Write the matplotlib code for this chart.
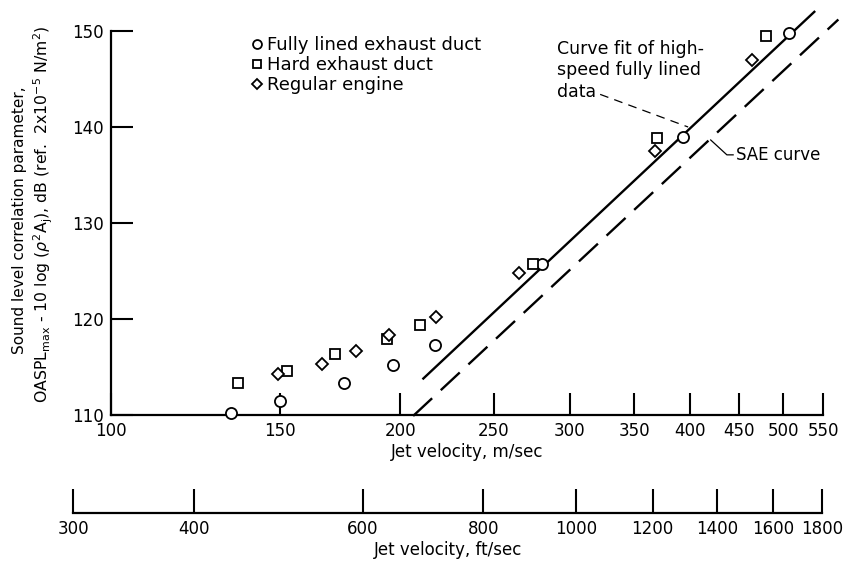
import numpy as np
import matplotlib
matplotlib.use('Agg')
import matplotlib.pyplot as plt
from matplotlib.ticker import FixedLocator, NullLocator

plt.rcParams['font.family'] = ['DejaVu Sans']
plt.rcParams['mathtext.fontset'] = 'dejavusans'

# data (jet velocity m/sec, correlation parameter dB)
lined_v = [133.3, 150.0, 174.6, 196.5, 217.4, 280.7, 393.7, 507.3]
lined_db = [110.2, 111.5, 113.3, 115.2, 117.3, 125.7, 139.0, 149.8]
hard_v = [135.5, 152.5, 171.2, 193.5, 209.7, 274.4, 369.4, 479.6]
hard_db = [113.3, 114.6, 116.4, 117.9, 119.4, 125.7, 138.9, 149.5]
reg_v = [149.1, 165.9, 179.7, 194.6, 217.6, 265.9, 368.0, 463.8]
reg_db = [114.3, 115.3, 116.7, 118.3, 120.2, 124.8, 137.5, 147.0]

fit_v = [211.3, 538.6]
fit_db = [113.8, 152.0]
sae_v = [206.2, 570.5]
sae_db = [109.9, 151.2]

ms_ticks = [100, 150, 200, 250, 300, 350, 400, 450, 500, 550]
fts_ticks = [300, 400, 600, 800, 1000, 1200, 1400, 1600, 1800]
db_ticks = [110, 120, 130, 140, 150]
FT = 0.3048

fig = plt.figure(figsize=(8.46, 5.65), dpi=100)
ax_l, ax_w = 0.1309, 0.842
ax = fig.add_axes([ax_l, 0.2655, ax_w, 0.6796])
ax.set_xscale('log')
ax.set_xlim(100, 550)
ax.set_ylim(110, 150)

fs = 12
ax.plot(lined_v, lined_db, 'o', ms=8, mfc='white', mec='black', mew=1.3, clip_on=False,
        label='Fully lined exhaust duct', zorder=5)
ax.plot(hard_v, hard_db, 's', ms=7.5, mfc='white', mec='black', mew=1.3, clip_on=False,
        label='Hard exhaust duct', zorder=5)
ax.plot(reg_v, reg_db, 'D', ms=6.3, mfc='white', mec='black', mew=1.3, clip_on=False,
        label='Regular engine', zorder=5)

ax.plot(fit_v, fit_db, '-', color='black', lw=1.7, clip_on=False)
ax.plot(sae_v, sae_db, '--', color='black', lw=1.7, dashes=(11, 5), clip_on=False)

# leader lines
ax.plot([322.6, 398.2], [143.4, 140.0], '--', color='black', lw=0.9, dashes=(7, 5))
ax.plot([420.3, 436.9, 443.5], [138.65, 137.1, 137.1], '-', color='black', lw=0.9)
ax.text(290.9, 145.9, 'Curve fit of high-\nspeed fully lined\ndata', fontsize=12.5,
        va='center', ha='left', linespacing=1.25)
ax.text(447, 137.1, 'SAE curve', fontsize=fs, va='center', ha='left')

ax.legend(loc='upper left', bbox_to_anchor=(0.187, 1.005), frameon=False, fontsize=13,
          handlelength=0.6, handletextpad=0.3, labelspacing=0.1, markerscale=0.8,
          borderaxespad=0.0)

for s in ['top', 'right']:
    ax.spines[s].set_visible(False)
for s in ['left', 'bottom']:
    ax.spines[s].set_linewidth(1.6)

ax.xaxis.set_major_locator(FixedLocator(ms_ticks))
ax.xaxis.set_minor_locator(NullLocator())
ax.set_xticklabels([str(t) for t in ms_ticks])
ax.set_yticks(db_ticks)
ax.tick_params(axis='both', direction='in', length=16, width=1.5, labelsize=fs, pad=5)
ax.set_xlabel('Jet velocity, m/sec', fontsize=fs, labelpad=2)

# second (ft/sec) scale
lo = np.log10(fts_ticks[0] * FT / 100) / np.log10(5.5)
hi = np.log10(fts_ticks[-1] * FT / 100) / np.log10(5.5)
ax2 = fig.add_axes([ax_l + lo * ax_w, 0.092, (hi - lo) * ax_w, 0.0001])
ax2.set_xscale('log')
ax2.set_xlim(fts_ticks[0], fts_ticks[-1])
for s in ['top', 'right', 'left']:
    ax2.spines[s].set_visible(False)
ax2.spines['bottom'].set_linewidth(1.6)
ax2.set_yticks([])
ax2.xaxis.set_major_locator(FixedLocator(fts_ticks))
ax2.xaxis.set_minor_locator(NullLocator())
ax2.set_xticklabels([str(t) for t in fts_ticks])
ax2.tick_params(axis='x', direction='in', length=17, width=1.5, labelsize=fs, pad=5)
ax2.set_xlabel('Jet velocity, ft/sec', fontsize=fs, labelpad=2)

fig.text(20 / 846, 0.61, 'Sound level correlation parameter,', rotation=90,
         ha='center', va='center', fontsize=11)
fig.text(43 / 846, 0.62,
         r'OASPL$_{\mathrm{max}}$ - 10 log ($\rho^2$A$_{\mathrm{j}}$), dB (ref.  2x10$^{-5}$ N/m$^2$)',
         rotation=90, ha='center', va='center', fontsize=11.3)

fig.savefig('out.png', dpi=100)
